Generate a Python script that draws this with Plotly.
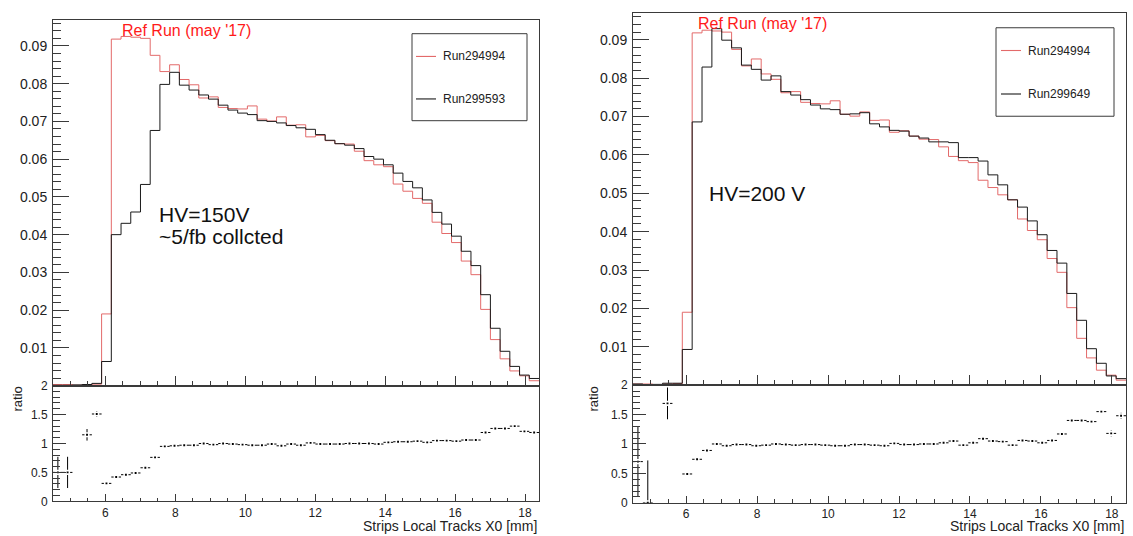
import numpy as np
import plotly.graph_objects as go

# ---------------- data ----------------
X_MIN, X_MAX, N_BINS = 4.5, 18.4, 50

# Reference run (red), same in both panels
run_294994 = [0.0003, 0.0003, 0.0001, 0.0003, 0.0004, 0.0190, 0.0918, 0.0925, 0.0923, 0.0920,
              0.0875, 0.0832, 0.0850, 0.0811, 0.0797, 0.0762, 0.0765, 0.0737, 0.0734, 0.0733,
              0.0741, 0.0706, 0.0701, 0.0712, 0.0690, 0.0691, 0.0659, 0.0663, 0.0649, 0.0641,
              0.0640, 0.0621, 0.0596, 0.0585, 0.0580, 0.0534, 0.0515, 0.0496, 0.0483, 0.0433,
              0.0403, 0.0379, 0.0330, 0.0294, 0.0202, 0.0122, 0.0071, 0.0039, 0.0026, 0.0013]

# Left panel comparison run (black)
run_299593 = [0.0001, 0.0001, 0.0002, 0.0003, 0.0006, 0.0064, 0.0400, 0.0430, 0.0460, 0.0533,
              0.0676, 0.0798, 0.0830, 0.0796, 0.0783, 0.0770, 0.0759, 0.0743, 0.0730, 0.0722,
              0.0718, 0.0702, 0.0700, 0.0696, 0.0689, 0.0683, 0.0679, 0.0665, 0.0650, 0.0641,
              0.0637, 0.0628, 0.0607, 0.0600, 0.0585, 0.0563, 0.0541, 0.0524, 0.0492, 0.0459,
              0.0428, 0.0396, 0.0356, 0.0318, 0.0241, 0.0152, 0.0091, 0.0051, 0.0028, 0.0019]

# Right panel comparison run (black)
run_299649 = [0.0003, 0.0000, 0.0002, 0.0005, 0.0005, 0.0093, 0.0686, 0.0829, 0.0929, 0.0899,
              0.0879, 0.0834, 0.0823, 0.0795, 0.0806, 0.0765, 0.0756, 0.0744, 0.0730, 0.0720,
              0.0718, 0.0706, 0.0707, 0.0710, 0.0681, 0.0673, 0.0664, 0.0662, 0.0649, 0.0644,
              0.0634, 0.0634, 0.0632, 0.0593, 0.0593, 0.0584, 0.0548, 0.0522, 0.0483, 0.0464,
              0.0428, 0.0392, 0.0351, 0.0318, 0.0239, 0.0169, 0.0095, 0.0057, 0.0024, 0.0017]

# Ratio panels
ratio_left = [0.50, 0.50, None, 1.15, 1.51, 0.31, 0.42, 0.46, 0.49, 0.58,
              0.76, 0.95, 0.96, 0.97, 0.97, 1.00, 0.98, 1.00, 0.99, 0.98,
              0.97, 0.97, 0.99, 0.96, 0.99, 0.97, 1.01, 0.99, 0.99, 0.99,
              1.00, 1.00, 1.00, 0.99, 1.02, 1.03, 1.03, 1.04, 1.02, 1.05,
              1.05, 1.04, 1.06, 1.06, 1.19, 1.26, 1.26, 1.30, 1.21, 1.19]
ratio_left_err = [0.27, 0.27, 0.0, 0.10, 0.05, 0.02, 0.01, 0.01, 0.01, 0.01,
                  0.01, 0.01, 0.01, 0.01, 0.01, 0.01, 0.01, 0.01, 0.01, 0.01,
                  0.01, 0.01, 0.01, 0.01, 0.01, 0.01, 0.01, 0.01, 0.01, 0.01,
                  0.01, 0.01, 0.01, 0.01, 0.01, 0.01, 0.01, 0.01, 0.01, 0.01,
                  0.01, 0.01, 0.01, 0.01, 0.01, 0.015, 0.02, 0.02, 0.02, 0.02]

ratio_right = [0.70, 0.00, None, 1.69, None, 0.49, 0.74, 0.89, 1.00, 0.97,
               0.99, 0.99, 0.97, 0.98, 1.00, 0.99, 0.98, 0.99, 0.99, 0.98,
               0.97, 0.97, 0.99, 0.99, 0.98, 0.97, 1.01, 0.99, 0.99, 1.00,
               1.00, 1.02, 1.05, 0.98, 1.02, 1.09, 1.05, 1.04, 0.98, 1.06,
               1.05, 1.02, 1.06, 1.17, 1.40, 1.40, 1.38, 1.55, 1.18, 1.48]
ratio_right_err = [0.60, 0.72, 0.0, 0.27, 0.0, 0.02, 0.01, 0.01, 0.01, 0.01,
                   0.01, 0.01, 0.01, 0.01, 0.01, 0.01, 0.01, 0.01, 0.01, 0.01,
                   0.01, 0.01, 0.01, 0.01, 0.01, 0.01, 0.01, 0.01, 0.01, 0.01,
                   0.01, 0.01, 0.01, 0.01, 0.01, 0.01, 0.01, 0.01, 0.01, 0.01,
                   0.01, 0.01, 0.01, 0.015, 0.02, 0.02, 0.02, 0.02, 0.05, 0.05]

legend_left = ["Run294994", "Run299593"]
legend_right = ["Run294994", "Run299649"]
x_title = "Strips Local Tracks X0 [mm]"

# ---------------- helpers ----------------
W, H = 1133, 536
H_PAPER = 528  # effective drawn height observed in the viewer
FONT = "Liberation Sans, Arial, Helvetica, sans-serif"
RED = "#e36a6a"
BLACK = "#1a1a1a"
FRAME = "#3a3a3a"

edges = np.linspace(X_MIN, X_MAX, N_BINS + 1)
centers = 0.5 * (edges[:-1] + edges[1:])
half_w = 0.5 * (edges[1] - edges[0])


def px(v):
    return v / W


def py(v):
    return 1 - v / H_PAPER


def step(vals):
    return list(edges), list(vals) + [vals[-1]]


fig = go.Figure()


def add_hist(vals, color, xa, ya):
    xs, ys = step(vals)
    fig.add_trace(go.Scatter(x=xs, y=ys, mode="lines", line=dict(color=color, width=1, shape="hv"),
                             xaxis=xa, yaxis=ya, showlegend=False, hoverinfo="skip"))


def add_ratio(vals, errs, xa, ya):
    fig.add_trace(go.Scatter(
        x=list(centers), y=vals, mode="markers",
        marker=dict(symbol="square", size=3.5, color="black", line=dict(color="white", width=1.6)),
        error_x=dict(type="constant", value=half_w, color="black", thickness=1, width=0),
        error_y=dict(type="data", array=errs, color="black", thickness=1, width=0),
        xaxis=xa, yaxis=ya, showlegend=False, hoverinfo="skip"))


add_hist(run_294994, RED, "x", "y")
add_hist(run_299593, BLACK, "x", "y")
add_ratio(ratio_left, ratio_left_err, "x2", "y2")
add_hist(run_294994, RED, "x3", "y3")
add_hist(run_299649, BLACK, "x3", "y3")
add_ratio(ratio_right, ratio_right_err, "x4", "y4")

common = dict(showline=True, linecolor=FRAME, linewidth=1, mirror=True, ticks="inside",
              tickcolor=FRAME, showgrid=False, zeroline=False)

# domains (paper)
L_X = [px(53), px(539)]
R_X = [px(633), px(1126)]
L_TOP = [py(383), py(13)]
L_BOT = [py(500), py(383)]
R_TOP = [py(382.5), py(6)]
R_BOT = [py(501.5), py(382.5)]

top_y_ticks = [0.01, 0.02, 0.03, 0.04, 0.05, 0.06, 0.07, 0.08, 0.09]


def top_x(domain, anchor):
    return dict(common, domain=domain, anchor=anchor, range=[X_MIN, X_MAX], tick0=0, dtick=2,
                ticklen=10, showticklabels=False,
                minor=dict(ticks="inside", dtick=0.5, tick0=0, ticklen=5, tickcolor=FRAME))


def bot_x(domain, anchor):
    return dict(common, domain=domain, anchor=anchor, range=[X_MIN, X_MAX], tick0=0, dtick=2,
                ticklen=7, showticklabels=True, tickfont=dict(family=FONT, size=12, color="#222"),
                ticklabelstandoff=0,
                minor=dict(ticks="inside", dtick=0.5, tick0=0, ticklen=3.5, tickcolor=FRAME))


def top_y(domain, anchor, top):
    return dict(common, domain=domain, anchor=anchor, range=[0, top], tickmode="array",
                tickvals=top_y_ticks, ticktext=[f"{v:.2f}" for v in top_y_ticks], ticklen=16,
                tickfont=dict(family=FONT, size=14, color="#222"), ticklabelstandoff=2,
                minor=dict(ticks="inside", tickmode="linear", tick0=0, dtick=0.002, ticklen=8,
                           tickcolor=FRAME))


def bot_y(domain, anchor):
    return dict(common, domain=domain, anchor=anchor, range=[0, 2], tickmode="array",
                tickvals=[0, 0.5, 1, 1.5, 2], ticktext=["0", "0.5", "1", "1.5", "2"], ticklen=13,
                tickfont=dict(family=FONT, size=12, color="#222"), ticklabelstandoff=2,
                minor=dict(ticks="inside", tickmode="linear", tick0=0, dtick=0.1, ticklen=7,
                           tickcolor=FRAME))


fig.update_layout(
    width=W, height=H, margin=dict(l=0, r=0, t=0, b=0), autosize=False,
    paper_bgcolor="white", plot_bgcolor="white", showlegend=False,
    font=dict(family=FONT, color="#222"),
    xaxis=top_x(L_X, "y"), yaxis=top_y(L_TOP, "x", 0.0969),
    xaxis2=bot_x(L_X, "y2"), yaxis2=bot_y(L_BOT, "x2"),
    xaxis3=top_x(R_X, "y3"), yaxis3=top_y(R_TOP, "x3", 0.0970),
    xaxis4=bot_x(R_X, "y4"), yaxis4=bot_y(R_BOT, "x4"),
)

ann = []
shapes = []


def text(x, y, t, size, color="#111", xanchor="center", angle=0):
    ann.append(dict(x=px(x), y=py(y), xref="paper", yref="paper", text=t, showarrow=False,
                    xanchor=xanchor, yanchor="middle", textangle=angle,
                    font=dict(family=FONT, size=size, color=color)))


# Labels
text(186.5, 24, "Ref Run (may '17)", 16, "#ff1a1a")
text(762.5, 16.5, "Ref Run (may '17)", 16, "#ff1a1a")
text(157, 210, "HV=150V", 21, "#111", "left")
text(157, 232.5, "~5/fb collcted", 21, "#111", "left")
text(707, 188.5, "HV=200 V", 21, "#111", "left")
text(17, 397, "ratio", 13, "#222", angle=-90)
text(593, 397, "ratio", 13, "#222", angle=-90)
text(539, 524.5, x_title, 14, "#222", "right")
text(1126, 524.5, x_title, 14, "#222", "right")


# Legends (drawn as boxes with line samples and text)
def legend_box(x0, x1, y0, y1, entries, line_x0, line_x1, text_x, ys):
    shapes.append(dict(type="rect", xref="paper", yref="paper", x0=px(x0), x1=px(x1),
                       y0=py(y1), y1=py(y0), line=dict(color=FRAME, width=1),
                       fillcolor="white", layer="above"))
    for (label, color), yy in zip(entries, ys):
        shapes.append(dict(type="line", xref="paper", yref="paper", x0=px(line_x0), x1=px(line_x1),
                           y0=py(yy), y1=py(yy), line=dict(color=color, width=1.1), layer="above"))
        text(text_x, yy, label, 12, "#222", "left")


legend_box(412, 527, 27, 115, list(zip(legend_left, [RED, BLACK])), 416, 436, 440.5, [50, 93])
legend_box(996, 1114, 21, 110.5, list(zip(legend_right, [RED, BLACK])), 1001, 1021, 1025.5, [44, 88])

fig.update_layout(annotations=ann, shapes=shapes)

POST = "document.body.style.margin='0px';document.body.style.padding='0px';"
fig.write_html("out.html", config={"displayModeBar": False}, post_script=POST)
